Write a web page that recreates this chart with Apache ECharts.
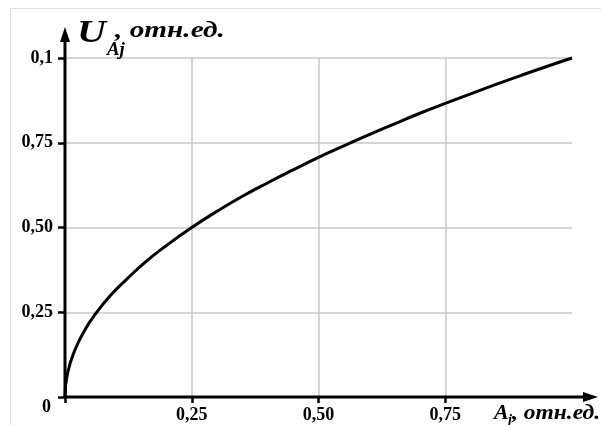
<!DOCTYPE html>
<html>
<head>
<meta charset="utf-8">
<script src="https://cdn.jsdelivr.net/npm/echarts@6/dist/echarts.min.js"></script>
<style>
  html, body { margin: 0; padding: 0; background: #fff; }
  #chart { width: 601px; height: 425px; }
</style>
</head>
<body>
<div id="chart"></div>
<script>
// values
var xValues = [0, 0.005, 0.02, 0.04, 0.06, 0.09, 0.12, 0.16, 0.2, 0.25, 0.3, 0.35, 0.4, 0.45, 0.5, 0.55, 0.6, 0.65, 0.7, 0.75, 0.8, 0.85, 0.9, 0.95, 1.0];
var yValues = [0, 0.07, 0.14, 0.2, 0.245, 0.3, 0.345, 0.4, 0.447, 0.5, 0.548, 0.592, 0.632, 0.67, 0.707, 0.741, 0.774, 0.806, 0.837, 0.866, 0.894, 0.922, 0.949, 0.975, 1.0];
var tickValues = [0, 0.25, 0.5, 0.75, 1];
var xTickLabels = ["", "0,25", "0,50", "0,75", ""];
var yTickLabels = ["0", "0,25", "0,50", "0,75", "0,1"];

var font = "'Liberation Serif', 'Times New Roman', serif";
var gridColor = "#c9c9cc";

var points = [];
for (var i = 0; i < xValues.length; i++) {
  points.push([xValues[i], yValues[i]]);
}

var chart = echarts.init(document.getElementById("chart"));

var option = {
  backgroundColor: "#fff",
  animation: false,
  grid: {
    left: 65,
    right: 29,
    top: 58,
    bottom: 28
  },
  xAxis: {
    type: "value",
    min: 0,
    max: 1,
    interval: 0.25,
    axisLine: { show: false },
    axisTick: {
      show: true,
      length: 6,
      customValues: [0, 0.25, 0.5, 0.75],
      lineStyle: { color: "#000", width: 2.5 }
    },
    axisLabel: {
      margin: 9,
      fontFamily: font,
      fontWeight: "bold",
      fontSize: 18,
      color: "#000",
      formatter: function(v) {
        var k = tickValues.indexOf(Math.round(v * 100) / 100);
        return k >= 0 ? xTickLabels[k] : "";
      }
    },
    splitLine: {
      show: true,
      lineStyle: { color: gridColor, width: 1.5 }
    }
  },
  yAxis: {
    type: "value",
    min: 0,
    max: 1,
    interval: 0.25,
    axisLine: { show: false },
    axisTick: {
      show: true,
      length: 7,
      lineStyle: { color: "#000", width: 2.5 }
    },
    axisLabel: {
      margin: 12,
      fontFamily: font,
      fontWeight: "bold",
      fontSize: 18,
      color: "#000",
      formatter: function(v) {
        var k = tickValues.indexOf(Math.round(v * 100) / 100);
        if (k === 0) return "{o|" + yTickLabels[0] + "}";
        return k >= 0 ? yTickLabels[k] : "";
      },
      rich: {
        o: {
          fontFamily: font,
          fontWeight: "bold",
          fontSize: 18,
          color: "#000",
          padding: [20, 2, 0, 0]
        }
      }
    },
    splitLine: {
      show: true,
      lineStyle: { color: gridColor, width: 1.5 }
    }
  },
  series: [
    {
      type: "line",
      data: points,
      smooth: true,
      symbol: "none",
      clip: false,
      lineStyle: { color: "#000", width: 3 },
      z: 5
    }
  ]
};

chart.setOption(option);

// axis lines with arrows, placed from the grid's own pixel positions
var o = chart.convertToPixel({ gridIndex: 0 }, [0, 0]);
var yTop = 27;
var xEnd = 598;

function textEl(x, y, str, size, sx) {
  return {
    type: "text",
    x: x,
    y: y,
    z: 20,
    scaleX: sx || 1,
    style: {
      text: str,
      fontFamily: font,
      fontWeight: "bold",
      fontStyle: "italic",
      fontSize: size,
      fill: "#000",
      verticalAlign: "top"
    }
  };
}

chart.setOption({
  graphic: [
    {
      type: "rect",
      z: 0,
      shape: { x: 10.5, y: 8.5, width: 620, height: 440 },
      style: { fill: null, stroke: "#e0e0e0", lineWidth: 1 }
    },
    {
      type: "line",
      z: 20,
      shape: { x1: o[0], y1: o[1], x2: o[0], y2: yTop + 10 },
      style: { stroke: "#000", lineWidth: 3 }
    },
    {
      type: "polygon",
      z: 20,
      shape: { points: [[o[0], yTop], [o[0] - 5, yTop + 15], [o[0] + 5, yTop + 15]] },
      style: { fill: "#000" }
    },
    {
      type: "line",
      z: 20,
      shape: { x1: o[0], y1: o[1], x2: xEnd - 10, y2: o[1] },
      style: { stroke: "#000", lineWidth: 3 }
    },
    {
      type: "polygon",
      z: 20,
      shape: { points: [[xEnd, o[1]], [xEnd - 15, o[1] - 5], [xEnd - 15, o[1] + 5]] },
      style: { fill: "#000" }
    },
    textEl(77, 18, "U", 32, 1.25),
    textEl(107, 41, "Aj", 18, 1.05),
    textEl(115, 19, ", отн.ед.", 24, 1.22),
    textEl(494, 403, "A", 21, 1.05),
    textEl(508, 413, "j", 14),
    textEl(512, 403, ", отн.ед.", 21, 1.12)
  ]
});
</script>
</body>
</html>
